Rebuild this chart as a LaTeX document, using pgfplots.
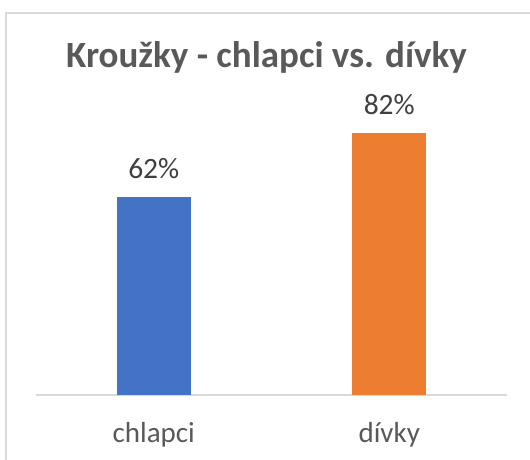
\documentclass[border=0pt]{standalone}
\usepackage{fontspec}
\setmainfont{Carlito}
\usepackage{pgfplots}
\pgfplotsset{compat=1.18}
\definecolor{cblue}{HTML}{4472C4}
\definecolor{corange}{HTML}{ED7D31}
\definecolor{txt}{HTML}{595959}
\definecolor{lbl}{HTML}{404040}
\definecolor{axl}{HTML}{D9D9D9}
\begin{document}
\begin{tikzpicture}
\path[use as bounding box] (0bp,0bp) rectangle (530bp,460bp);
\fill[white] (0bp,0bp) rectangle (530bp,460bp);
\draw[axl, line width=1.2bp] (6bp,0bp) -- (6bp,447bp) -- (530bp,447bp);
\node[anchor=base, text=txt, inner sep=0pt, font=\fontsize{37bp}{44bp}\selectfont\bfseries] at (266.5bp,392bp) {Kroužky - chlapci vs. dívky};
\begin{axis}[
  at={(36bp,65bp)}, anchor=south west, scale only axis,
  width=471bp, height=319bp,
  xmin=-0.5, xmax=1.5, ymin=0, ymax=100,
  axis x line=bottom, axis y line=none,
  x axis line style={axl, line width=1.3bp, -},
  xtick={0,1}, xticklabels={chlapci,dívky},
  major tick length=0pt,
  xticklabel style={anchor=base, yshift=-47bp, text=txt, inner sep=0pt, font=\fontsize{29bp}{35bp}\selectfont},
  ybar, bar width=0.316, bar shift=0pt,
  /pgf/number format/assume math mode=true,
  nodes near coords={\pgfmathprintnumber{\pgfplotspointmeta}\%},
  every node near coord/.append style={anchor=base, yshift=18.5bp, inner sep=0pt, text=lbl, font=\fontsize{29.5bp}{35bp}\selectfont},
  clip=false,
]
\addplot[fill=cblue, draw=none] coordinates {(0,62)};
\addplot[fill=corange, draw=none] coordinates {(1,82)};
\end{axis}
\end{tikzpicture}
\end{document}
